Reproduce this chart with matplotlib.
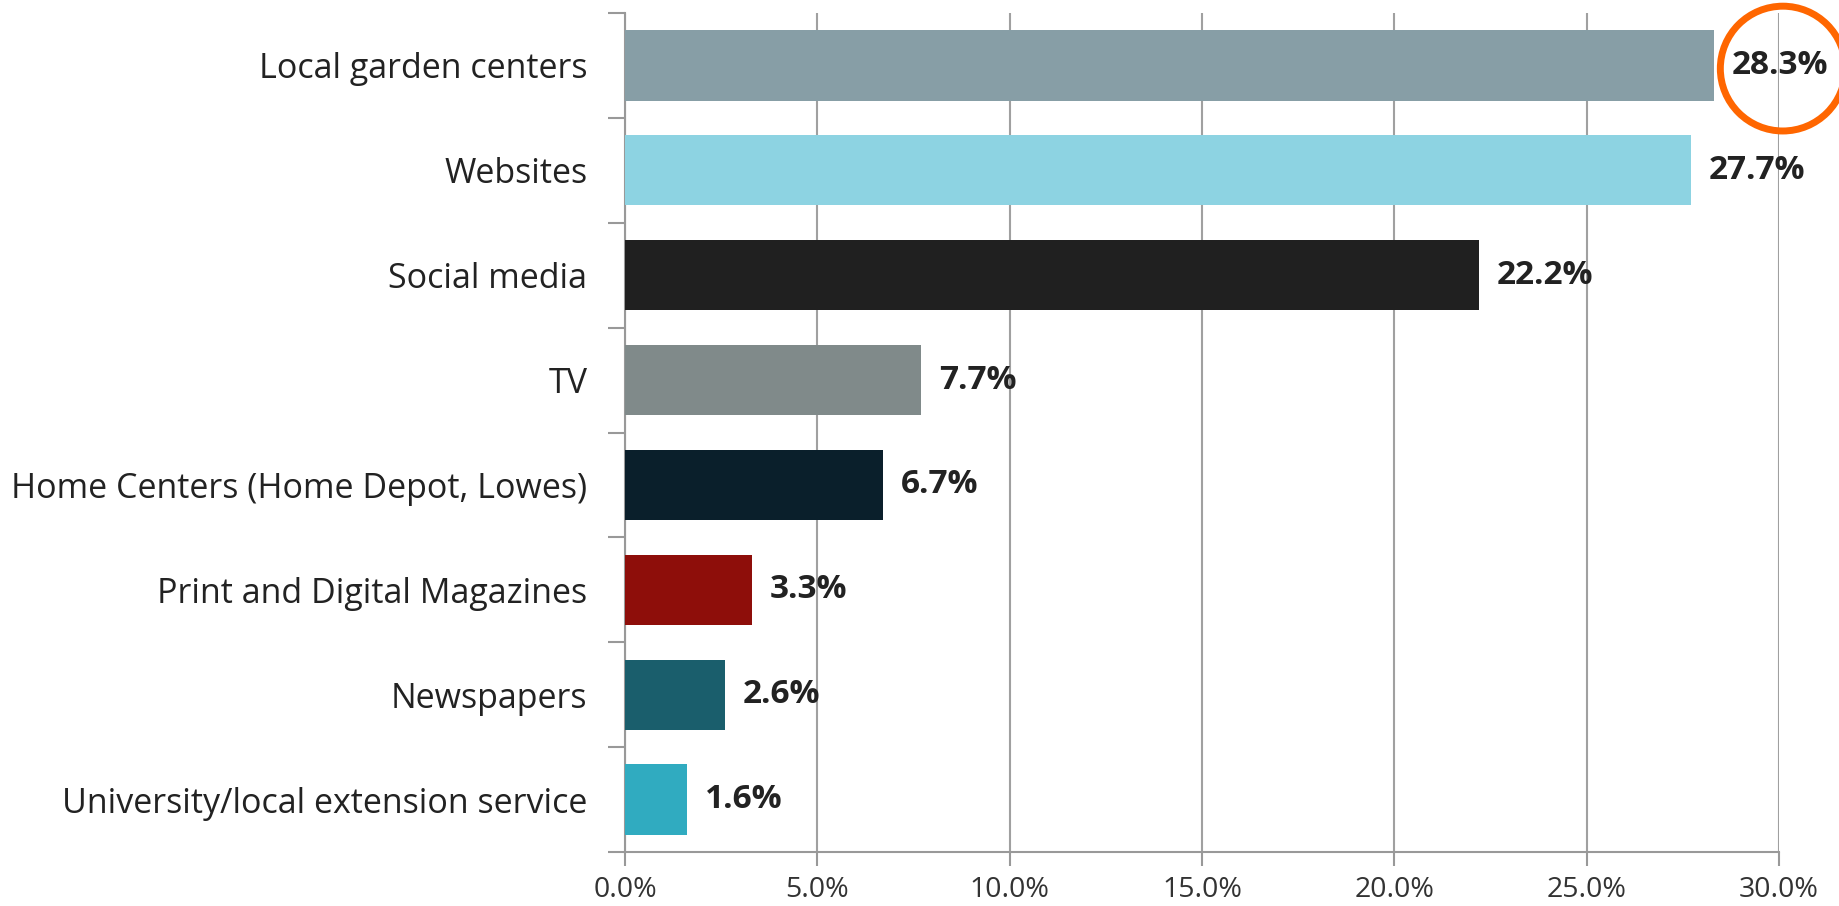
import matplotlib.pyplot as plt
from matplotlib.patches import Ellipse
from matplotlib.ticker import FixedLocator, FuncFormatter

plt.rcParams['font.family'] = ['Open Sans', 'DejaVu Sans']

categories = ["Local garden centers", "Websites", "Social media", "TV",
              "Home Centers (Home Depot, Lowes)", "Print and Digital Magazines",
              "Newspapers", "University/local extension service"]
values = [28.3, 27.7, 22.2, 7.7, 6.7, 3.3, 2.6, 1.6]
colors = ["#879ea6", "#8dd3e2", "#202020", "#808a8a", "#0a1f2b", "#8e0e0a",
          "#1a5e6c", "#30abc0"]
xticks = [0, 5, 10, 15, 20, 25, 30]

fig = plt.figure(figsize=(18.4, 9.06), dpi=100)
ax = fig.add_axes([625 / 1840, 1 - 852 / 906, 1154 / 1840, 839 / 906])

pos = list(range(len(categories)))
ax.barh(pos, values, height=0.67, color=colors, zorder=3)
ax.set_ylim(len(categories) - 0.5, -0.5)
ax.set_xlim(0, 30)

for p, v in zip(pos, values):
    ax.annotate(f"{v:.1f}%", (v, p), xytext=(13, 0), textcoords="offset points",
                va="center", ha="left", fontsize=24, fontweight="bold",
                color="#222222", zorder=5)

# circle around the top value
ax.add_patch(Ellipse((30.1, 0.03), width=3.25, height=1.19, transform=ax.transData,
                     fill=False, edgecolor="#ff6600", linewidth=5, zorder=4,
                     clip_on=False))

ax.set_yticks(pos)
ax.set_yticklabels(categories, fontsize=24.5, color="#222222")
ax.yaxis.set_minor_locator(FixedLocator([p - 0.5 for p in pos] + [len(pos) - 0.5]))
ax.tick_params(axis="y", which="major", length=0, pad=27)
ax.tick_params(axis="y", which="minor", length=12, color="#999999", width=1.5)

ax.xaxis.set_major_locator(FixedLocator(xticks))
ax.xaxis.set_major_formatter(FuncFormatter(lambda x, _: f"{x:.1f}%"))
ax.tick_params(axis="x", length=10, color="#999999", width=1.5, labelsize=20.5,
               labelcolor="#333333", pad=7)
ax.grid(axis="x", color="#a0a0a0", linewidth=1.5, zorder=0)

for s in ["top", "right"]:
    ax.spines[s].set_visible(False)
for s in ["left", "bottom"]:
    ax.spines[s].set_color("#999999")
    ax.spines[s].set_linewidth(1.5)

fig.savefig("out.png", dpi=100)
